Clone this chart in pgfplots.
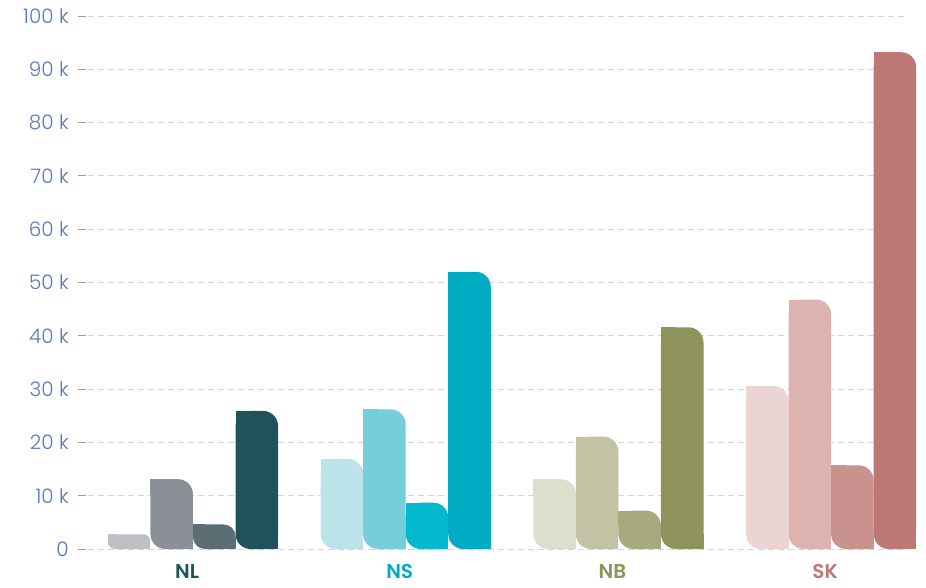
\documentclass[border=0pt]{standalone}
\usepackage{pgfplots}
\pgfplotsset{compat=1.18}
\usepackage{fontspec}
\setmainfont{Poppins Light}
\newfontfamily\catfont{Poppins SemiBold}

% region palettes, light to dark
\definecolor{nlA}{HTML}{BFC0C4}\definecolor{nlB}{HTML}{8B9097}\definecolor{nlC}{HTML}{5B6E73}\definecolor{nlD}{HTML}{1F5359}
\definecolor{nsA}{HTML}{BDE3EA}\definecolor{nsB}{HTML}{77CEDB}\definecolor{nsC}{HTML}{02B9CD}\definecolor{nsD}{HTML}{00ABC3}
\definecolor{nbA}{HTML}{DDDECC}\definecolor{nbB}{HTML}{C2C3A5}\definecolor{nbC}{HTML}{A7AA7D}\definecolor{nbD}{HTML}{8F935C}
\definecolor{skA}{HTML}{EAD5D4}\definecolor{skB}{HTML}{DDB3B1}\definecolor{skC}{HTML}{CA928F}\definecolor{skD}{HTML}{BD7775}
\definecolor{ticktext}{RGB}{88,120,190}
\definecolor{gridgray}{RGB}{212,212,212}

% leaf-shaped bar: rounded top-right and bottom-left corners, square elsewhere
% #1 x position, #2 value (thousands), #3 colour, #4 corner radius (pt), #5 radius in y units
\newcommand{\leafbar}[5]{%
  \addplot[ybar, bar width=0.2, bar shift=0pt, fill=#3, draw=none, rounded corners=#4pt]
    coordinates {(#1,#2)};
  \addplot[ybar, bar width=#4pt, bar shift=0pt, xshift={21.27pt-#4pt/2}, fill=#3, draw=none]
    coordinates {(#1,#5)};
  \addplot[draw=none, mark=none, xshift={-21.27pt+#4pt/2},
    error bars/.cd, y dir=minus, y fixed=#5, error mark=none,
    error bar style={line width=#4pt, draw=#3, line cap=butt, solid}]
    coordinates {(#1,#2)};
}

\begin{document}
\begin{tikzpicture}
\path[use as bounding box] (-77.7pt,-38pt) rectangle (848.3pt,549pt);
\begin{axis}[
  scale only axis,
  width=828.3pt, height=533pt,
  xmin=-0.542, xmax=3.352,
  ymin=0, ymax=100,
  clip=false,
  axis line style={draw=none},
  ymajorgrids,
  grid style={gridgray, line width=0.9pt, dash pattern=on 6pt off 4pt},
  ytick={0,10,...,100},
  yticklabels={0,10 k,20 k,30 k,40 k,50 k,60 k,70 k,80 k,90 k,100 k},
  ytick pos=left,
  major tick length=8pt,
  ytick style={color=gray!75, line width=0.9pt},
  tick align=inside,
  yticklabel style={font=\fontsize{20}{24}\selectfont, text=ticktext, inner sep=0pt, xshift=-8.7pt},
  xtick={0,1,2,3},
  xticklabels={{\textcolor{nlD}{NL}},{\textcolor{nsD}{NS}},{\textcolor{nbD}{NB}},{\textcolor{skD}{SK}}},
  xtick style={draw=none},
  xticklabel style={font=\catfont\fontsize{20}{24}\selectfont, inner sep=0pt, yshift=-15.5pt, xshift=-6pt},
]
% NL
\leafbar{-0.3}{2.75}{nlA}{7}{1.31}
\leafbar{-0.1}{13.1}{nlB}{15}{2.81}
\leafbar{0.1}{4.6}{nlC}{12}{2.25}
\leafbar{0.3}{25.9}{nlD}{15}{2.81}
% NS
\leafbar{0.7}{16.9}{nsA}{15}{2.81}
\leafbar{0.9}{26.2}{nsB}{15}{2.81}
\leafbar{1.1}{8.7}{nsC}{15}{2.81}
\leafbar{1.3}{52.0}{nsD}{15}{2.81}
% NB
\leafbar{1.7}{13.1}{nbA}{15}{2.81}
\leafbar{1.9}{21.1}{nbB}{15}{2.81}
\leafbar{2.1}{7.2}{nbC}{15}{2.81}
\leafbar{2.3}{41.6}{nbD}{15}{2.81}
% SK
\leafbar{2.7}{30.6}{skA}{15}{2.81}
\leafbar{2.9}{46.8}{skB}{15}{2.81}
\leafbar{3.1}{15.7}{skC}{15}{2.81}
\leafbar{3.3}{93.2}{skD}{15}{2.81}
\end{axis}
\end{tikzpicture}
\end{document}
